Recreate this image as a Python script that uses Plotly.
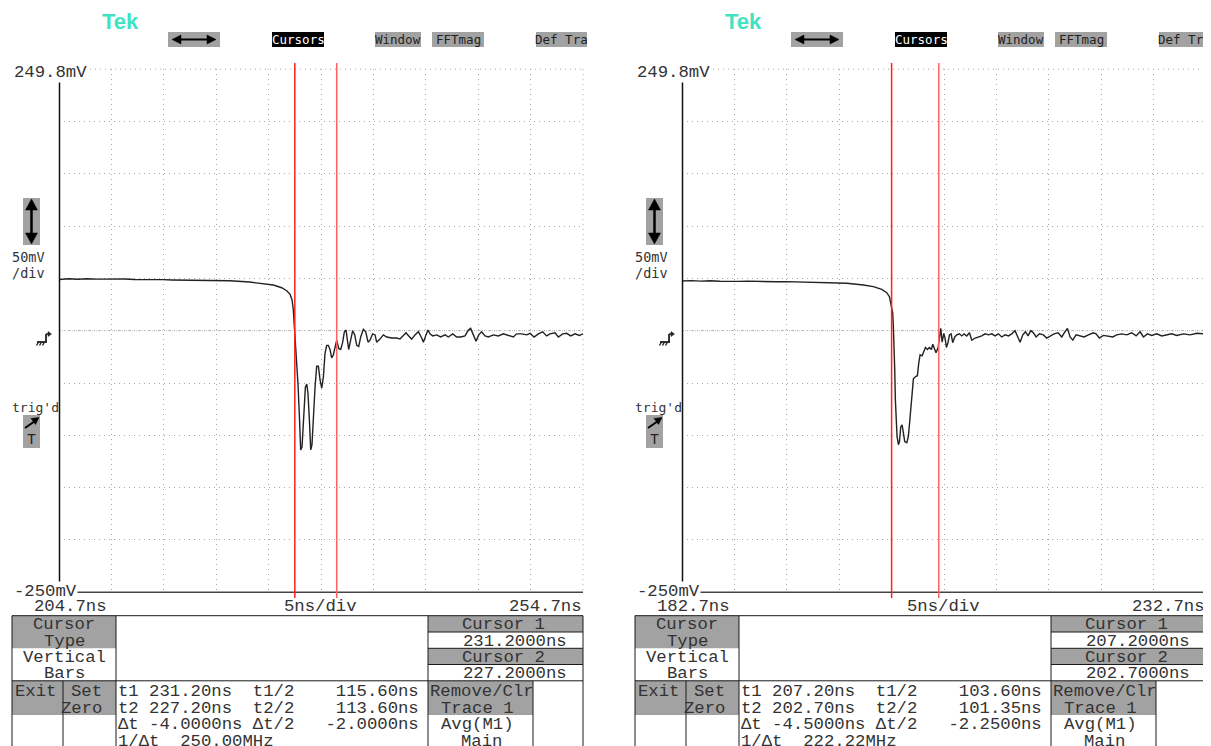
import plotly.graph_objects as go

W, H = 1211, 746          # reference picture size
PAGE_OFF = 8              # browser body margin: figure starts 8px in
FW, FH = W - PAGE_OFF, H - PAGE_OFF

# ---------------- data ----------------
left_t = [204.7, 205.6, 206.5, 207.4, 208.3, 209.2, 210.1, 211.0, 211.9, 212.8, 213.7, 214.6,
          215.5, 216.4, 217.3, 218.2, 219.1, 220.0, 221.0, 222.9, 224.2, 225.15, 225.95, 226.43,
          226.75, 226.94, 227.06, 227.16, 227.25, 227.38, 227.51, 227.64, 227.76, 227.89, 228.02,
          228.21, 228.34, 228.46, 228.59, 228.72, 228.84, 228.97, 229.13, 229.29, 229.45, 229.61,
          229.77, 229.93, 230.08, 230.24, 230.40, 230.56, 230.72, 230.88, 231.04, 231.20, 231.39,
          231.58, 231.77, 231.93, 232.09, 232.22, 232.34, 232.53, 232.72, 232.92, 233.11, 233.30,
          233.49, 233.74, 233.97, 234.19, 234.38, 234.63, 234.86, 235.01, 235.33, 235.65, 235.97,
          236.45, 236.92, 237.24, 237.56, 237.81, 238.07, 238.35, 238.67, 238.99, 239.31, 239.47,
          239.72, 239.91, 240.10, 240.36, 240.74, 241.12, 241.54, 241.85, 242.27, 242.65, 243.03,
          243.44, 243.76, 243.98, 244.24, 244.49, 244.75, 245.03, 245.35, 245.67, 246.15, 246.62,
          247.10, 247.58, 248.05, 248.37, 248.85, 249.33, 249.65, 250.03, 250.44, 250.85, 251.23,
          251.55, 252.03, 252.35, 252.76, 253.14, 253.53, 253.94, 254.35, 254.70]
left_mv = [49.0, 49.6, 49.2, 49.7, 49.3, 49.5, 49.1, 49.4, 48.9, 49.1, 48.7, 48.8,
           48.5, 48.5, 48.2, 48.3, 48.0, 48.1, 47.8, 46.5, 45.3, 43.7, 41.1, 38.2,
           34.7, 29.3, 19.8, 5.4, -8.9, -28, -52, -82, -114, -111, -82,
           -54, -51, -60, -85, -114, -109, -82, -54, -34, -34, -47,
           -55, -44, -22, -14, -14, -18, -26, -23, -14, -9, -17,
           -18, -11, -1, 0.6, -12, -18, -9, 0, -4, -14, -15,
           -6, 1.3, -1, -11, -9, -3, -4, -11, -8, -4, -6,
           -7, -7, -8, -5, -2, -5, -8, -4, -1, -7, -11,
           -4, 0.6, -3, -5, -4, -6, -4, -6, -3, -6, -6,
           -5, 0.6, 2.2, -4, -10, -4, -1, -5, -6, -4, -5,
           -3, -4.5, -6, -3, -3, -4, -2.5, -6, -3, -1, -5,
           -3, -2, -6, -3, -2.5, -5, -3, -4.5, -3]

right_t = [182.7, 183.6, 184.5, 185.4, 186.3, 187.2, 188.1, 189.0, 189.9, 190.8, 191.7, 192.6,
           193.5, 194.4, 195.3, 196.83, 198.42, 200.01, 200.96, 201.76, 202.24, 202.49, 202.65,
           202.81, 202.87, 202.94, 203.00, 203.06, 203.13, 203.22, 203.35, 203.45, 203.57, 203.70,
           203.83, 203.95, 204.15, 204.30, 204.40, 204.53, 204.65, 204.78, 204.97, 205.16, 205.29,
           205.42, 205.61, 205.80, 205.93, 206.12, 206.31, 206.50, 206.63, 206.82, 206.94, 207.14,
           207.26, 207.39, 207.52, 207.68, 207.80, 207.93, 208.09, 208.22, 208.38, 208.53, 208.73,
           208.92, 209.17, 209.40, 209.62, 209.87, 210.13, 210.35, 210.67, 210.98, 211.30, 211.62,
           211.94, 212.26, 212.57, 212.89, 213.21, 213.53, 213.85, 214.16, 214.48, 214.74, 214.96,
           215.22, 215.47, 215.72, 215.98, 216.23, 216.49, 216.80, 217.19, 217.50, 217.82, 218.20,
           218.59, 218.94, 219.25, 219.48, 219.73, 219.99, 220.30, 220.69, 221.07, 221.48, 221.96,
           222.21, 222.53, 222.91, 223.39, 223.80, 224.18, 224.66, 225.14, 225.61, 226.03, 226.41,
           226.73, 227.11, 227.52, 228.00, 228.48, 228.95, 229.43, 229.91, 230.55, 231.18, 231.82,
           232.45, 232.70]
right_mv = [47.5, 47.9, 47.4, 47.8, 47.3, 47.6, 47.2, 47.4, 47.0, 47.2, 46.8, 46.9,
            46.6, 46.7, 46.3, 45.9, 45.3, 43.7, 42.1, 39.5, 36.3, 32.5, 24.5,
            16.6, 3.8, -15, -38, -66, -89, -101, -109, -106, -92, -90,
            -98, -106, -107, -101, -90, -73, -58, -46, -44, -43, -31,
            -23, -24, -18, -16, -18, -16, -18, -13, -18, -21, -16,
            -9, 2.2, -11, -2.5, -7, -16, -11, -4, -3, -11.5, -6,
            -4, -3, -5, -3, -5, -2, -9, -7, -6, -5, -3,
            -4, -3, -5, -3, -6, -4, -5, -3, 0, -6, -11,
            -4, -1, -5, 0, -2, -6, -3, -4, -7, -5, -3,
            -2, -6, -1, 2.2, -6, -9, -4, -5, -6, -4, -2,
            -3, -7, -4.5, -5, -6, -4, -3, -4, -2, -5, -1,
            -6, -3, -4.5, -3, -5, -4, -3, -4.5, -3, -4, -2.5,
            -3, -3.5]

x_start = [204.7, 182.7]
x_end = [254.7, 232.7]
y_min, y_max = -250, 250
cursor1 = [231.2, 207.2]
cursor2 = [227.2, 202.7]
start_labels = ["204.7ns", "182.7ns"]
end_labels = ["254.7ns", "232.7ns"]
cursor1_labels = ["231.2000ns", "207.2000ns"]
cursor2_labels = ["227.2000ns", "202.7000ns"]
readout_t1 = ["231.20ns", "207.20ns"]
readout_t1_half = ["115.60ns", "103.60ns"]
readout_t2 = ["227.20ns", "202.70ns"]
readout_t2_half = ["113.60ns", "101.35ns"]
readout_dt = ["-4.0000ns", "-4.5000ns"]
readout_dt_half = ["-2.0000ns", "-2.2500ns"]
readout_inv_dt = ["250.00MHz", "222.22MHz"]
y_top_label = "249.8mV"
y_bottom_label = "-250mV"
volts_per_div = ["50mV", "/div"]
time_per_div = "5ns/div"
menu_items = ["Cursors", "Window", "FFTmag", "Def Tra"]

# ---------------- helpers ----------------
def px(x):
    return (x - PAGE_OFF) / FW


def py(y):
    return 1 - (y - PAGE_OFF) / FH


shapes = []
annotations = []
GRAY = "#a2a2a2"
LINE = "#1a1a1a"
TXT = "#333333"
BIG = "Liberation Mono"
SMALL = "DejaVu Sans Mono"
NB = "\u00a0"


def rect(x0, y0, x1, y1, fill, line=None, lw=1):
    shapes.append(dict(type="rect", xref="paper", yref="paper", x0=px(x0), x1=px(x1),
                       y0=py(y1), y1=py(y0), fillcolor=fill,
                       line=dict(color=line or fill, width=lw if line else 0), layer="above"))


def seg(x0, y0, x1, y1, color, w=1, dash="solid", layer="above"):
    shapes.append(dict(type="line", xref="paper", yref="paper", x0=px(x0), x1=px(x1),
                       y0=py(y0), y1=py(y1), line=dict(color=color, width=w, dash=dash),
                       layer=layer))


def tri(pts, color):
    p = "M " + " L ".join(f"{px(a)},{py(b)}" for a, b in pts) + " Z"
    shapes.append(dict(type="path", xref="paper", yref="paper", path=p, fillcolor=color,
                       line=dict(color=color, width=0.5), layer="above"))


def text(x, y, s, size=17.3, color=TXT, anchor="left", family=BIG, bg=None, h=None):
    d = dict(x=px(x), y=py(y), xref="paper", yref="paper", text=s.replace(" ", NB),
             showarrow=False, xanchor=anchor, yanchor="middle", borderpad=0,
             font=dict(family=family, size=size, color=color))
    if bg:
        d["bgcolor"] = bg
    if h:
        d["height"] = h
        d["valign"] = "middle"
    annotations.append(d)


def cell(x, y, s, anchor="left"):
    text(x, y, s, anchor=anchor, h=16)


# plot geometry (reference pixels)
PL, PR, PT, PB = 59, 583, 69.2, 592.2
OFFS = [0, 623]

fig = go.Figure()
fig.add_trace(go.Scatter(x=left_t, y=left_mv, mode="lines", line=dict(color="#222222", width=1.4),
                         xaxis="x", yaxis="y", showlegend=False, hoverinfo="skip"))
fig.add_trace(go.Scatter(x=right_t, y=right_mv, mode="lines", line=dict(color="#222222", width=1.4),
                         xaxis="x2", yaxis="y2", showlegend=False, hoverinfo="skip"))

axis_common = dict(showgrid=True, gridcolor="#a8a8a8", gridwidth=1, griddash="1px,4px",
                   showticklabels=False, zeroline=False, showline=False, ticks="",
                   fixedrange=True)
layout_axes = {}
for i, ox in enumerate(OFFS):
    xs = "" if i == 0 else "2"
    layout_axes["xaxis" + xs] = dict(domain=[px(PL + ox), px(PR + ox)],
                                     range=[x_start[i], x_end[i]], dtick=5, tick0=x_start[i],
                                     anchor="y" + xs, **axis_common)
    layout_axes["yaxis" + xs] = dict(domain=[py(PB), py(PT)], range=[y_min, y_max],
                                     dtick=50, tick0=y_min, anchor="x" + xs, **axis_common)

for i, ox in enumerate(OFFS):
    xr = "x" if i == 0 else "x2"
    # frame pieces
    seg(85 + ox, PT, PR + ox, PT, "#a8a8a8", 1, "1px,4px", "below")
    seg(PR + ox, PT, PR + ox, PB, "#a8a8a8", 1, "1px,4px", "below")
    seg(PL + 1 + ox, 330.7, PR + ox, 330.7, "#bdbdbd", 1, "1px,1px", "below")
    seg(PL + 0.5 + ox, 82, PL + 0.5 + ox, 582, "#111111", 1.5)
    seg(74 + ox, PB, PR + ox, PB, "#444444", 1.5)
    # cursors
    for cv, col in ((cursor2[i], "#ff2020"), (cursor1[i], "#ff6262")):
        shapes.append(dict(type="line", xref=xr, yref="paper", x0=cv, x1=cv, y0=py(598),
                           y1=py(63), line=dict(color=col, width=1.5), layer="above"))

    # left-side labels
    text(13 + ox, 72, y_top_label, bg="white")
    text(13 + ox, 591, y_bottom_label, bg="white")
    text(11 + ox, 257, volts_per_div[0], size=13.5, family=SMALL)
    text(11 + ox, 273, volts_per_div[1], size=13.5, family=SMALL)
    text(11 + ox, 408, "trig'd", size=13, family=SMALL)
    # up/down arrow box
    rect(23 + ox, 198, 40 + ox, 245, GRAY)
    seg(31.5 + ox, 207, 31.5 + ox, 236, "#000000", 2.5)
    tri([(31.5 + ox, 199), (25.5 + ox, 210), (37.5 + ox, 210)], "#000000")
    tri([(31.5 + ox, 244), (25.5 + ox, 233), (37.5 + ox, 233)], "#000000")
    # trigger box
    rect(23 + ox, 415, 40 + ox, 448, GRAY)
    seg(25 + ox, 428, 35 + ox, 421, "#000000", 2)
    tri([(39 + ox, 417.5), (31 + ox, 418.5), (35.5 + ox, 424.5)], "#000000")
    text(31.5 + ox, 440, "T", size=15, color="#222222", anchor="center")
    # ground symbol
    seg(37 + ox, 342, 47 + ox, 342, "#222222", 1.8)
    for hx in (38.5, 41.5, 44.5):
        seg(hx + ox, 342, hx - 2 + ox, 345.5, "#222222", 1.4)
    seg(46 + ox, 342, 46 + ox, 334, "#222222", 1.8)
    seg(46 + ox, 334, 49 + ox, 334, "#222222", 1.5)
    tri([(51.5 + ox, 334), (48 + ox, 331.5), (48 + ox, 336.5)], "#222222")

    # header
    text(120 + ox, 21, "<b>Tek</b>", size=22, color="#3fe3c2", anchor="center",
         family="Liberation Sans")
    rect(168 + ox, 32, 220 + ox, 47, GRAY)
    seg(179 + ox, 39.5, 209 + ox, 39.5, "#000000", 2)
    tri([(172 + ox, 39.5), (181 + ox, 35), (181 + ox, 44)], "#000000")
    tri([(216 + ox, 39.5), (207 + ox, 35), (207 + ox, 44)], "#000000")
    boxes = [(272, 324, "#000000", "#ffffff"), (375, 421, GRAY, "#222222"),
             (432, 484, GRAY, "#222222"), (536, 587, GRAY, "#222222")]
    for (bx0, bx1, bf, tc), lab in zip(boxes, menu_items):
        rect(bx0 + ox, 32, bx1 + ox, 47, bf)
        text((bx0 + bx1) / 2 + ox, 39.8, lab, size=12.5, color=tc, anchor="center",
             family=SMALL)

    # bottom axis labels
    text(33 + ox, 606, start_labels[i])
    text(320 + ox, 606, time_per_div, anchor="center")
    text(583 + ox, 606, end_labels[i], anchor="right")

    # table
    r0, r1, r2, r3, r4, r5, rb = 615.7, 632, 648.3, 664.5, 680.8, 715, 750
    rect(12 + ox, r0, 116 + ox, r2, GRAY)
    rect(428 + ox, r0, 583 + ox, r1, GRAY)
    rect(428 + ox, r2, 583 + ox, r3, GRAY)
    rect(12 + ox, r4, 63 + ox, r5, GRAY)
    rect(63 + ox, r4, 116 + ox, r5, GRAY)
    rect(428 + ox, r4, 533 + ox, r5, GRAY)
    for yy in (r0, r4):
        seg(12 + ox, yy, 583 + ox, yy, LINE, 1)
    for yy in (r1, r2, r3):
        seg(428 + ox, yy, 583 + ox, yy, LINE, 1)
    for xx in (12, 116, 428, 583):
        seg(xx + ox, r0, xx + ox, rb, LINE, 1)
    for xx in (63, 533):
        seg(xx + ox, r4, xx + ox, rb, LINE, 1)

    cell(64 + ox, 624, "Cursor", anchor="center")
    cell(64 + ox, 640.5, "Type", anchor="center")
    cell(64 + ox, 656.5, "Vertical", anchor="center")
    cell(64 + ox, 673, "Bars", anchor="center")
    cell(461 + ox, 624, "Cursor 1")
    cell(462 + ox, 640.5, cursor1_labels[i])
    cell(461 + ox, 656.5, "Cursor 2")
    cell(462 + ox, 673, cursor2_labels[i])
    cell(13.5 + ox, 691, "Exit")
    cell(103 + ox, 691, "Set", anchor="right")
    cell(103 + ox, 707.5, "Zero", anchor="right")
    lines = [
        f"t1 {readout_t1[i]:<9} t1/2{readout_t1_half[i]:>12}",
        f"t2 {readout_t2[i]:<9} t2/2{readout_t2_half[i]:>12}",
        f"Δt {readout_dt[i]:<9} Δt/2{readout_dt_half[i]:>12}",
        f"1/Δt  {readout_inv_dt[i]}",
    ]
    for k, ln in enumerate(lines):
        cell(117 + ox, 691 + 16.5 * k, ln)
    cell(429 + ox, 691, "Remove/Clr")
    cell(440 + ox, 707.5, "Trace 1")
    cell(440 + ox, 724, "Avg(M1)")
    cell(460 + ox, 740.5, "Main")

fig.update_layout(width=FW, height=FH, margin=dict(l=0, r=0, t=0, b=0, pad=0),
                  paper_bgcolor="white", plot_bgcolor="rgba(0,0,0,0)", showlegend=False,
                  shapes=shapes, annotations=annotations, hovermode=False, **layout_axes)

fig.write_html("out.html", config={"displayModeBar": False, "staticPlot": True})
